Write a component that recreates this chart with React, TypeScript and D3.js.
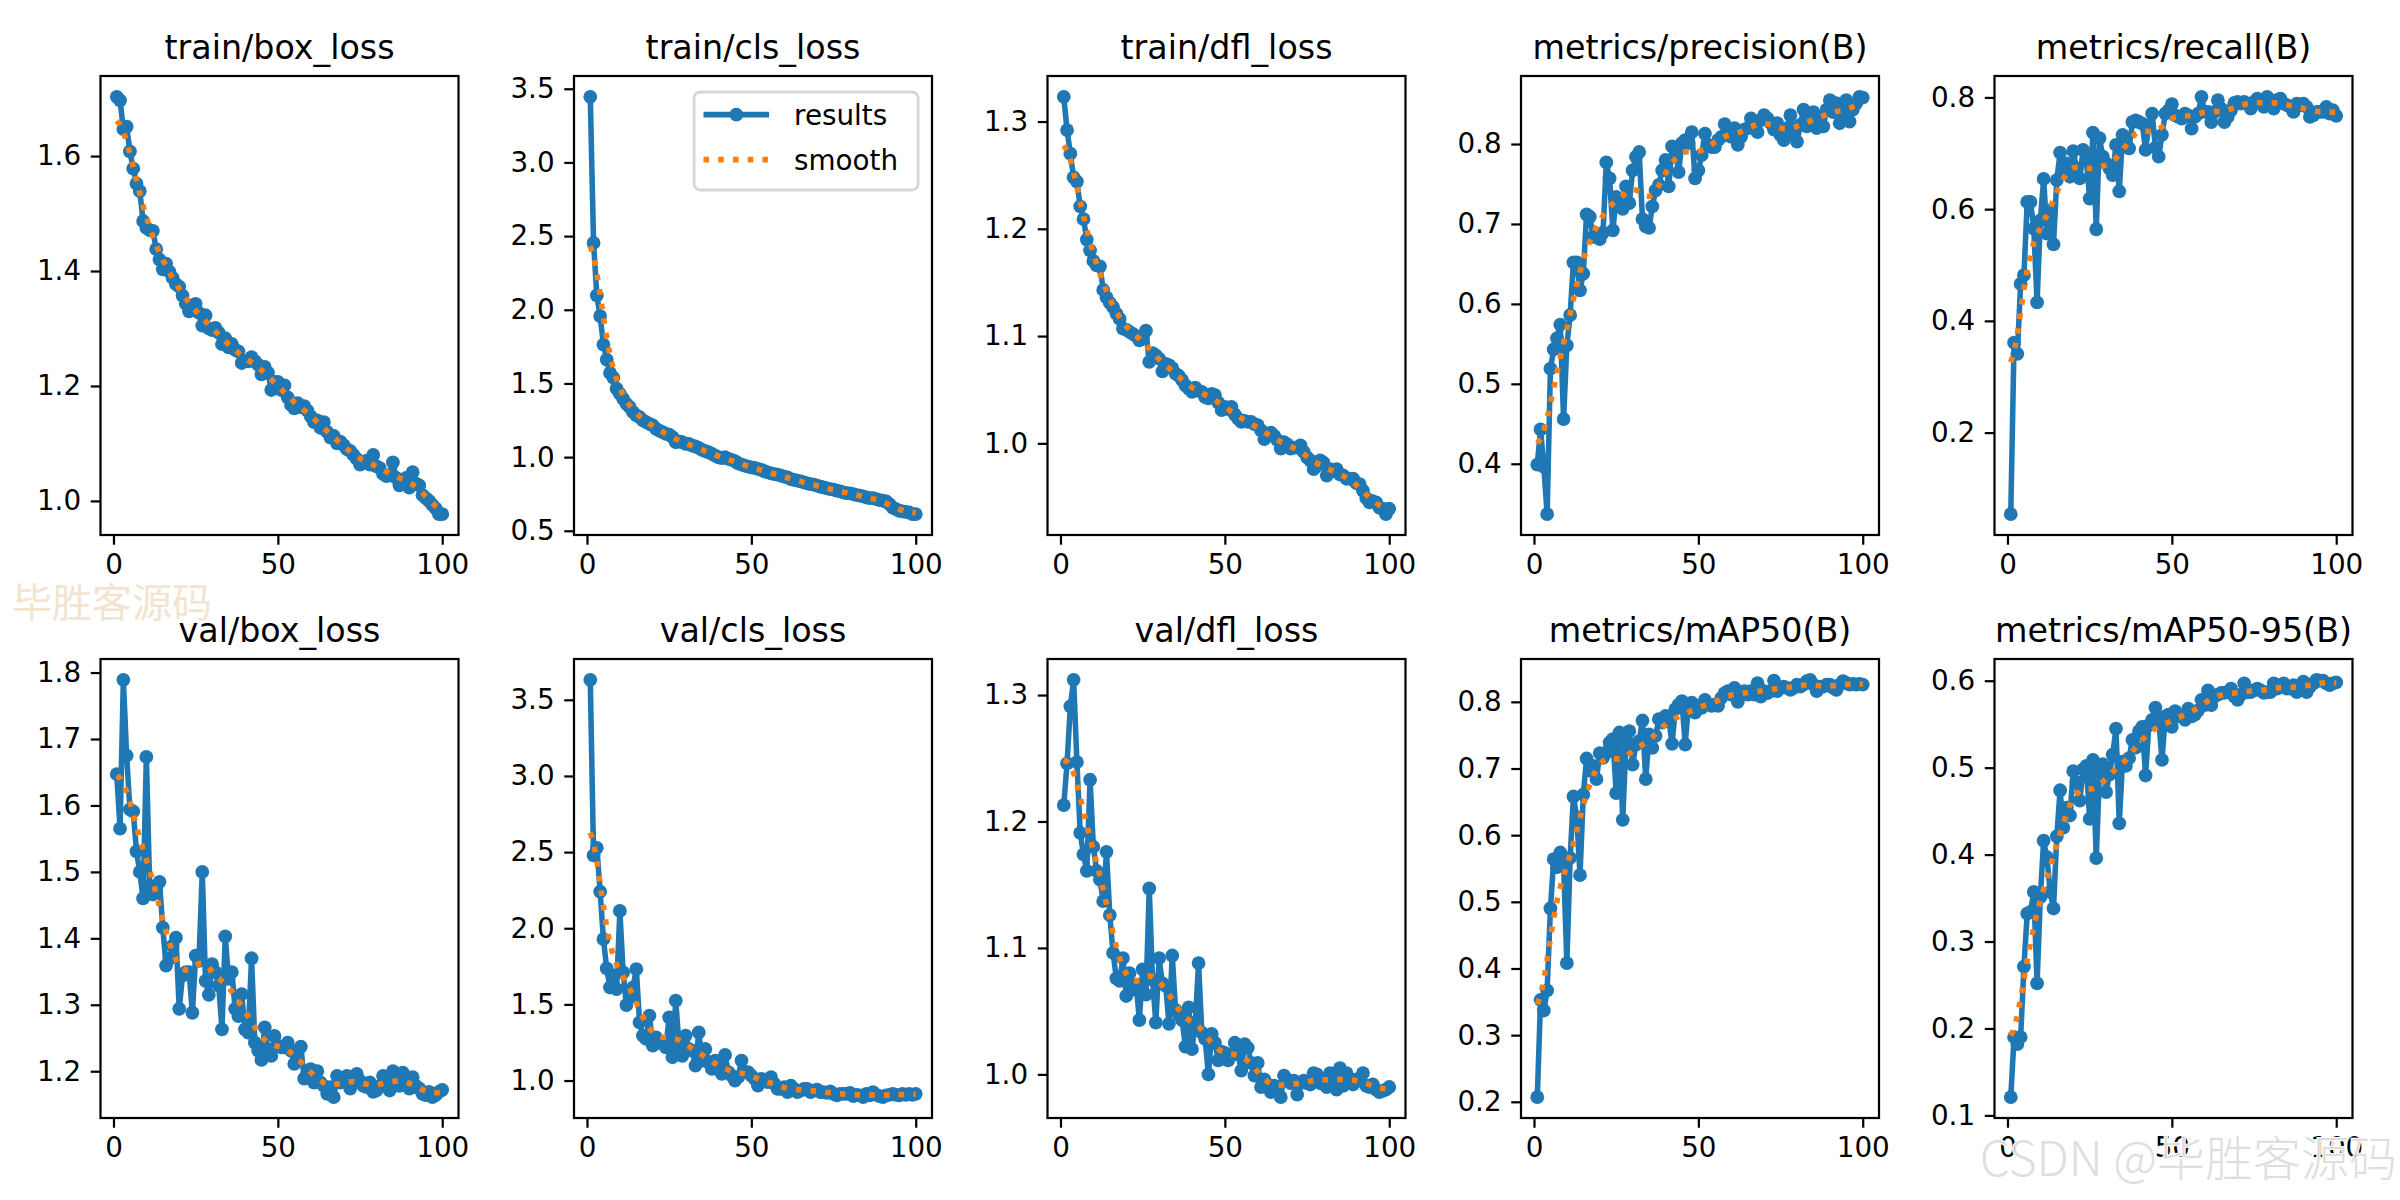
import * as d3 from "d3";
import { useEffect, useRef } from "react";

// values, epochs 1..100
const epochs = d3.range(1, 101);

const trainBoxLoss = [
  1.703, 1.697, 1.647, 1.651, 1.608, 1.578, 1.552, 1.539, 1.487, 1.475,
  1.471, 1.47, 1.438, 1.42, 1.403, 1.413, 1.399, 1.388, 1.377, 1.373,
  1.357, 1.343, 1.33, 1.34, 1.343, 1.327, 1.305, 1.323, 1.3, 1.297,
  1.301, 1.293, 1.273, 1.283, 1.267, 1.273, 1.263, 1.26, 1.24, 1.243,
  1.243, 1.25, 1.243, 1.237, 1.22, 1.233, 1.223, 1.193, 1.207, 1.207,
  1.193, 1.201, 1.18, 1.167, 1.161, 1.17, 1.163, 1.165, 1.157, 1.147,
  1.137, 1.14, 1.127, 1.137, 1.12, 1.11, 1.113, 1.1, 1.103, 1.097,
  1.09, 1.087, 1.08, 1.073, 1.063, 1.067, 1.07, 1.063, 1.08, 1.06,
  1.057, 1.047, 1.043, 1.045, 1.067, 1.04, 1.027, 1.033, 1.04, 1.023,
  1.05, 1.03, 1.027, 1.01, 1.005, 1.0, 0.993, 0.987, 0.977, 0.977,
];

const trainClsLoss = [
  3.445, 2.454, 2.097, 1.957, 1.764, 1.662, 1.571, 1.539, 1.464, 1.43,
  1.396, 1.362, 1.34, 1.305, 1.283, 1.271, 1.249, 1.237, 1.226, 1.215,
  1.192, 1.18, 1.169, 1.158, 1.153, 1.135, 1.101, 1.106, 1.101, 1.09,
  1.09, 1.078, 1.072, 1.062, 1.049, 1.04, 1.033, 1.022, 1.01, 0.999,
  0.994, 0.999, 0.988, 0.981, 0.972, 0.958, 0.949, 0.942, 0.935, 0.931,
  0.926, 0.92, 0.913, 0.904, 0.897, 0.89, 0.885, 0.881, 0.874, 0.867,
  0.863, 0.851, 0.845, 0.84, 0.835, 0.829, 0.822, 0.817, 0.813, 0.806,
  0.799, 0.795, 0.788, 0.783, 0.779, 0.772, 0.767, 0.76, 0.756, 0.754,
  0.749, 0.742, 0.738, 0.733, 0.726, 0.722, 0.722, 0.715, 0.708, 0.704,
  0.699, 0.681, 0.658, 0.647, 0.636, 0.631, 0.629, 0.624, 0.613, 0.613,
];

const trainDflLoss = [
  1.323, 1.292, 1.27, 1.248, 1.244, 1.221, 1.209, 1.19, 1.18, 1.17,
  1.166, 1.165, 1.143, 1.136, 1.131, 1.127, 1.121, 1.116, 1.107, 1.106,
  1.104, 1.102, 1.1, 1.096, 1.099, 1.105, 1.076, 1.084, 1.082, 1.079,
  1.067, 1.074, 1.073, 1.07, 1.065, 1.063, 1.059, 1.054, 1.051, 1.048,
  1.052, 1.049, 1.048, 1.043, 1.042, 1.046, 1.045, 1.038, 1.031, 1.034,
  1.032, 1.034, 1.027, 1.023, 1.02, 1.021, 1.02, 1.02, 1.018, 1.017,
  1.012, 1.004, 1.009, 1.01, 1.007, 1.003, 0.995, 1.001, 0.999, 0.995,
  0.996, 0.996, 0.998, 0.992, 0.987, 0.984, 0.976, 0.979, 0.984, 0.982,
  0.97, 0.976, 0.974, 0.976, 0.971, 0.97, 0.967, 0.967, 0.967, 0.963,
  0.962, 0.956, 0.949, 0.945, 0.946, 0.945, 0.94, 0.939, 0.934, 0.939,
];

const precisionB = [
  0.399, 0.443, 0.396, 0.337, 0.519, 0.543, 0.557, 0.574, 0.456, 0.548,
  0.586, 0.652, 0.652, 0.617, 0.638, 0.712, 0.709, 0.684, 0.684, 0.681,
  0.689, 0.777, 0.757, 0.692, 0.734, 0.722, 0.719, 0.747, 0.726, 0.767,
  0.784, 0.79, 0.706, 0.697, 0.695, 0.722, 0.742, 0.749, 0.767, 0.78,
  0.747, 0.797, 0.795, 0.765, 0.801, 0.805, 0.801, 0.815, 0.757, 0.767,
  0.786, 0.813, 0.799, 0.796, 0.796, 0.805, 0.809, 0.825, 0.811, 0.809,
  0.82, 0.799, 0.809, 0.818, 0.82, 0.832, 0.826, 0.815, 0.83, 0.836,
  0.832, 0.826, 0.818, 0.826, 0.811, 0.805, 0.82, 0.836, 0.813, 0.803,
  0.824, 0.843, 0.822, 0.83, 0.84, 0.82, 0.832, 0.822, 0.843, 0.855,
  0.84, 0.851, 0.826, 0.838, 0.855, 0.828, 0.843, 0.851, 0.859, 0.858,
];

const recallB = [
  0.054, 0.361, 0.341, 0.466, 0.482, 0.613, 0.613, 0.565, 0.433, 0.58,
  0.654, 0.556, 0.598, 0.537, 0.652, 0.701, 0.67, 0.682, 0.658, 0.704,
  0.673, 0.655, 0.706, 0.688, 0.619, 0.737, 0.564, 0.727, 0.694, 0.682,
  0.673, 0.661, 0.715, 0.632, 0.733, 0.712, 0.709, 0.756, 0.759, 0.756,
  0.753, 0.706, 0.75, 0.771, 0.71, 0.694, 0.733, 0.771, 0.777, 0.788,
  0.768, 0.765, 0.762, 0.771, 0.768, 0.744, 0.765, 0.771, 0.801, 0.774,
  0.774, 0.756, 0.774, 0.795, 0.78, 0.756, 0.765, 0.777, 0.79, 0.792,
  0.789, 0.792, 0.789, 0.78, 0.792, 0.798, 0.792, 0.783, 0.801, 0.789,
  0.78, 0.795, 0.798, 0.789, 0.786, 0.783, 0.774, 0.789, 0.786, 0.789,
  0.783, 0.765, 0.768, 0.774, 0.774, 0.774, 0.783, 0.771, 0.777, 0.767,
];

const valBoxLoss = [
  1.647, 1.565, 1.789, 1.675, 1.594, 1.591, 1.531, 1.5, 1.46, 1.673,
  1.479, 1.466, 1.476, 1.485, 1.416, 1.359, 1.369, 1.389, 1.401, 1.294,
  1.344, 1.349, 1.349, 1.288, 1.374, 1.366, 1.5, 1.336, 1.315, 1.361,
  1.349, 1.329, 1.263, 1.403, 1.339, 1.349, 1.294, 1.283, 1.316, 1.263,
  1.258, 1.37, 1.243, 1.231, 1.217, 1.266, 1.233, 1.223, 1.253, 1.238,
  1.236, 1.236, 1.243, 1.231, 1.211, 1.229, 1.237, 1.189, 1.198, 1.203,
  1.183, 1.2, 1.183, 1.178, 1.166, 1.176, 1.161, 1.193, 1.183, 1.189,
  1.193, 1.174, 1.183, 1.196, 1.186, 1.178, 1.176, 1.183, 1.169, 1.171,
  1.178, 1.193, 1.186, 1.171, 1.2, 1.183, 1.178, 1.198, 1.189, 1.174,
  1.191, 1.178, 1.174, 1.166, 1.164, 1.169, 1.161, 1.164, 1.169, 1.172,
];

const valClsLoss = [
  3.631, 2.478, 2.528, 2.24, 1.928, 1.736, 1.611, 1.688, 1.6, 2.114,
  1.71, 1.496, 1.546, 1.611, 1.731, 1.382, 1.295, 1.273, 1.426, 1.23,
  1.284, 1.251, 1.24, 1.218, 1.415, 1.153, 1.524, 1.23, 1.162, 1.295,
  1.207, 1.196, 1.098, 1.316, 1.131, 1.207, 1.12, 1.076, 1.131, 1.076,
  1.044, 1.168, 1.055, 1.033, 1.0, 1.022, 1.131, 1.055, 1.055, 1.033,
  1.011, 0.967, 1.011, 1.0, 0.989, 1.022, 0.978, 0.945, 0.945, 0.956,
  0.924, 0.967, 0.945, 0.924, 0.934, 0.945, 0.945, 0.924, 0.934, 0.94,
  0.924, 0.924, 0.919, 0.928, 0.913, 0.902, 0.913, 0.913, 0.913, 0.919,
  0.898, 0.906, 0.902, 0.891, 0.913, 0.902, 0.924, 0.906, 0.898, 0.891,
  0.902, 0.906, 0.913, 0.906, 0.902, 0.913, 0.906, 0.913, 0.906, 0.913,
];

const valDflLoss = [
  1.213, 1.246, 1.291, 1.312, 1.247, 1.191, 1.174, 1.161, 1.233, 1.18,
  1.161, 1.154, 1.137, 1.176, 1.126, 1.096, 1.076, 1.074, 1.092, 1.062,
  1.08, 1.067, 1.071, 1.043, 1.083, 1.063, 1.147, 1.075, 1.041, 1.092,
  1.072, 1.07, 1.04, 1.094, 1.051, 1.047, 1.043, 1.022, 1.053, 1.02,
  1.041, 1.088, 1.033, 1.028, 1.0, 1.032, 1.025, 1.011, 1.018, 1.017,
  1.011, 1.015, 1.025, 1.016, 1.003, 1.024, 1.021, 1.009, 0.999, 1.009,
  0.99, 0.996, 0.992, 0.986, 0.991, 0.99, 0.982, 0.999, 0.996, 0.993,
  0.995, 0.984, 0.993, 0.995, 0.993, 0.992, 1.001, 1.0, 0.993, 0.996,
  0.99, 1.001, 0.997, 0.988, 1.005, 0.991, 1.001, 0.996, 0.992, 0.996,
  0.995, 1.001, 0.991, 0.99, 0.992, 0.988, 0.986, 0.987, 0.988, 0.99,
];

const mAP50B = [
  0.207, 0.353, 0.337, 0.367, 0.49, 0.564, 0.552, 0.574, 0.558, 0.408,
  0.566, 0.658, 0.627, 0.54, 0.661, 0.715, 0.697, 0.704, 0.684, 0.723,
  0.716, 0.724, 0.739, 0.744, 0.663, 0.754, 0.623, 0.741, 0.756, 0.706,
  0.736, 0.741, 0.772, 0.684, 0.751, 0.731, 0.749, 0.774, 0.769, 0.779,
  0.774, 0.737, 0.789, 0.796, 0.801, 0.736, 0.796, 0.799, 0.784, 0.794,
  0.791, 0.803, 0.796, 0.794, 0.796, 0.794, 0.806, 0.813, 0.816, 0.811,
  0.821, 0.8, 0.813, 0.816, 0.811, 0.816, 0.811, 0.828, 0.808, 0.816,
  0.813, 0.816, 0.832, 0.816, 0.821, 0.823, 0.821, 0.818, 0.821, 0.826,
  0.823, 0.826, 0.831, 0.833, 0.826, 0.816, 0.823, 0.823, 0.826, 0.826,
  0.821, 0.818, 0.826, 0.831, 0.828, 0.826, 0.827, 0.826, 0.827, 0.826,
];

const mAP5095B = [
  0.121, 0.19, 0.182, 0.19, 0.271, 0.332, 0.334, 0.357, 0.252, 0.351,
  0.416, 0.397, 0.357, 0.338, 0.421, 0.474, 0.431, 0.454, 0.445, 0.496,
  0.483, 0.462, 0.498, 0.502, 0.441, 0.509, 0.396, 0.496, 0.504, 0.472,
  0.492, 0.515, 0.545, 0.436, 0.507, 0.502, 0.511, 0.532, 0.523, 0.542,
  0.547, 0.491, 0.549, 0.555, 0.569, 0.555, 0.509, 0.559, 0.561, 0.547,
  0.565, 0.559, 0.559, 0.555, 0.568, 0.559, 0.561, 0.566, 0.578, 0.572,
  0.589, 0.572, 0.582, 0.584, 0.586, 0.586, 0.587, 0.591, 0.582, 0.578,
  0.584, 0.597, 0.587, 0.587, 0.589, 0.591, 0.589, 0.586, 0.587, 0.587,
  0.597, 0.591, 0.593, 0.597, 0.591, 0.591, 0.595, 0.587, 0.593, 0.599,
  0.587, 0.593, 0.597, 0.601, 0.6, 0.6, 0.597, 0.595, 0.597, 0.598,
];

const titles = [
  "train/box_loss", "train/cls_loss", "train/dfl_loss", "metrics/precision(B)", "metrics/recall(B)",
  "val/box_loss", "val/cls_loss", "val/dfl_loss", "metrics/mAP50(B)", "metrics/mAP50-95(B)",
];
const series = [
  trainBoxLoss, trainClsLoss, trainDflLoss, precisionB, recallB,
  valBoxLoss, valClsLoss, valDflLoss, mAP50B, mAP5095B,
];
const yTicks = [
  [1.0, 1.2, 1.4, 1.6],
  [0.5, 1.0, 1.5, 2.0, 2.5, 3.0, 3.5],
  [1.0, 1.1, 1.2, 1.3],
  [0.4, 0.5, 0.6, 0.7, 0.8],
  [0.2, 0.4, 0.6, 0.8],
  [1.2, 1.3, 1.4, 1.5, 1.6, 1.7, 1.8],
  [1.0, 1.5, 2.0, 2.5, 3.0, 3.5],
  [1.0, 1.1, 1.2, 1.3],
  [0.2, 0.3, 0.4, 0.5, 0.6, 0.7, 0.8],
  [0.1, 0.2, 0.3, 0.4, 0.5, 0.6],
];
const xTicks = [0, 50, 100];
const legendLabels = ["results", "smooth"];

const BLUE = "#1f77b4";
const ORANGE = "#ff7f0e";
const PT = 200 / 72; // matplotlib points -> px at 200 dpi
const FONT = "DejaVu Sans, sans-serif";

// same filter ultralytics uses for the "smooth" curve (gaussian_filter1d, sigma=3, reflect)
function gaussianSmooth(y: number[], sigma = 3): number[] {
  const radius = Math.round(4 * sigma);
  const w = d3.range(-radius, radius + 1).map((k) => Math.exp(-0.5 * (k / sigma) ** 2));
  const total = d3.sum(w);
  const n = y.length;
  return y.map((_, i) => {
    let s = 0;
    for (let k = -radius; k <= radius; k++) {
      let j = i + k;
      if (j < 0) j = -j - 1;
      if (j >= n) j = 2 * n - j - 1;
      s += w[k + radius] * y[j];
    }
    return s / total;
  });
}

const App = () => {
  const ref = useRef<SVGSVGElement | null>(null);

  useEffect(() => {
    document.body.style.margin = "0";
    if (!ref.current) return;
    const svg = d3.select(ref.current);
    svg.selectAll("*").remove();

    const axW = 358;
    const axH = 459;
    const lefts = d3.range(5).map((c) => 100.5 + c * 473.5);
    const tops = [76, 659];

    series.forEach((values, i) => {
      const left = lefts[i % 5];
      const top = tops[Math.floor(i / 5)];
      const g = svg.append("g").attr("transform", `translate(${left},${top})`);

      const x = d3.scaleLinear().domain([1 - 0.05 * 99, 100 + 0.05 * 99]).range([0, axW]);
      const [lo, hi] = d3.extent(values) as [number, number];
      const pad = (hi - lo) * 0.05;
      const y = d3.scaleLinear().domain([lo - pad, hi + pad]).range([axH, 0]);

      g.append("clipPath")
        .attr("id", `clip${i}`)
        .append("rect")
        .attr("width", axW)
        .attr("height", axH);

      const plot = g.append("g").attr("clip-path", `url(#clip${i})`);
      const line = d3
        .line<number>()
        .x((_, k) => x(epochs[k]))
        .y((d) => y(d));

      plot
        .append("path")
        .datum(values)
        .attr("d", line)
        .attr("fill", "none")
        .attr("stroke", BLUE)
        .attr("stroke-width", 2 * PT)
        .attr("stroke-linejoin", "round");

      plot
        .selectAll("circle")
        .data(values)
        .enter()
        .append("circle")
        .attr("cx", (_, k) => x(epochs[k]))
        .attr("cy", (d) => y(d))
        .attr("r", 6.9)
        .attr("fill", BLUE);

      plot
        .append("path")
        .datum(gaussianSmooth(values))
        .attr("d", line)
        .attr("fill", "none")
        .attr("stroke", ORANGE)
        .attr("stroke-width", 2 * PT)
        .attr("stroke-dasharray", `${2 * PT} ${3.3 * PT}`)
        .attr("stroke-linecap", "butt");

      // spines
      g.append("rect")
        .attr("width", axW)
        .attr("height", axH)
        .attr("fill", "none")
        .attr("stroke", "#000")
        .attr("stroke-width", 0.8 * PT);

      const yAxis = g
        .append("g")
        .call(
          d3
            .axisLeft(y)
            .tickValues(yTicks[i])
            .tickSize(3.5 * PT)
            .tickPadding(3.5 * PT)
            .tickFormat(d3.format(".1f"))
        );
      const xAxis = g
        .append("g")
        .attr("transform", `translate(0,${axH})`)
        .call(
          d3
            .axisBottom(x)
            .tickValues(xTicks)
            .tickSize(3.5 * PT)
            .tickPadding(3.5 * PT)
            .tickFormat(d3.format("d"))
        );
      [yAxis, xAxis].forEach((a) => {
        a.select(".domain").remove();
        a.attr("font-family", FONT).attr("font-size", 10 * PT).attr("color", "#000");
        a.selectAll("line").attr("stroke-width", 0.8 * PT);
      });

      g.append("text")
        .attr("x", axW / 2)
        .attr("y", -6 * PT)
        .attr("text-anchor", "middle")
        .attr("font-family", FONT)
        .attr("font-size", 12 * PT)
        .text(titles[i]);

      if (i === 1) {
        const lw = 224;
        const lh = 98;
        const lx = axW - 5 * PT - lw;
        const ly = 16;
        const leg = g.append("g").attr("transform", `translate(${lx},${ly})`);
        leg.append("rect")
          .attr("width", lw)
          .attr("height", lh)
          .attr("rx", 6)
          .attr("fill", "#fff")
          .attr("fill-opacity", 0.8)
          .attr("stroke", "#cccccc")
          .attr("stroke-opacity", 0.8)
          .attr("stroke-width", PT);
        legendLabels.forEach((label, k) => {
          const cy = 22.6 + k * 45;
          const h = leg.append("line")
            .attr("x1", 9.4)
            .attr("x2", 75)
            .attr("y1", cy)
            .attr("y2", cy)
            .attr("stroke", k === 0 ? BLUE : ORANGE)
            .attr("stroke-width", 2 * PT);
          if (k === 0) {
            leg.append("circle").attr("cx", 42.2).attr("cy", cy).attr("r", 6.9).attr("fill", BLUE);
          } else {
            h.attr("stroke-dasharray", `${2 * PT} ${3.3 * PT}`);
          }
          leg.append("text")
            .attr("x", 100)
            .attr("y", cy + 10.5)
            .attr("font-family", FONT)
            .attr("font-size", 10 * PT)
            .text(label);
        });
      }
    });

    // watermarks baked into the screenshot
    svg.append("text")
      .attr("x", 12)
      .attr("y", 617)
      .attr("font-family", "Noto Sans CJK SC")
      .attr("font-size", 40)
      .attr("fill", "#f3e4cf")
      .text("毕胜客源码");
    svg.append("text")
      .attr("x", 2397)
      .attr("y", 1176)
      .attr("text-anchor", "end")
      .attr("font-family", "Noto Sans CJK SC")
      .attr("font-weight", 300)
      .attr("font-size", 48)
      .attr("fill", "#d6d6d6")
      .attr("fill-opacity", 0.8)
      .attr("stroke", "#fff")
      .attr("stroke-width", 2)
      .attr("paint-order", "stroke")
      .text("CSDN @毕胜客源码");
  }, []);

  return (
    <svg
      ref={ref}
      width={2400}
      height={1200}
      style={{ display: "block", background: "#fff" }}
    />
  );
};

export default App;
